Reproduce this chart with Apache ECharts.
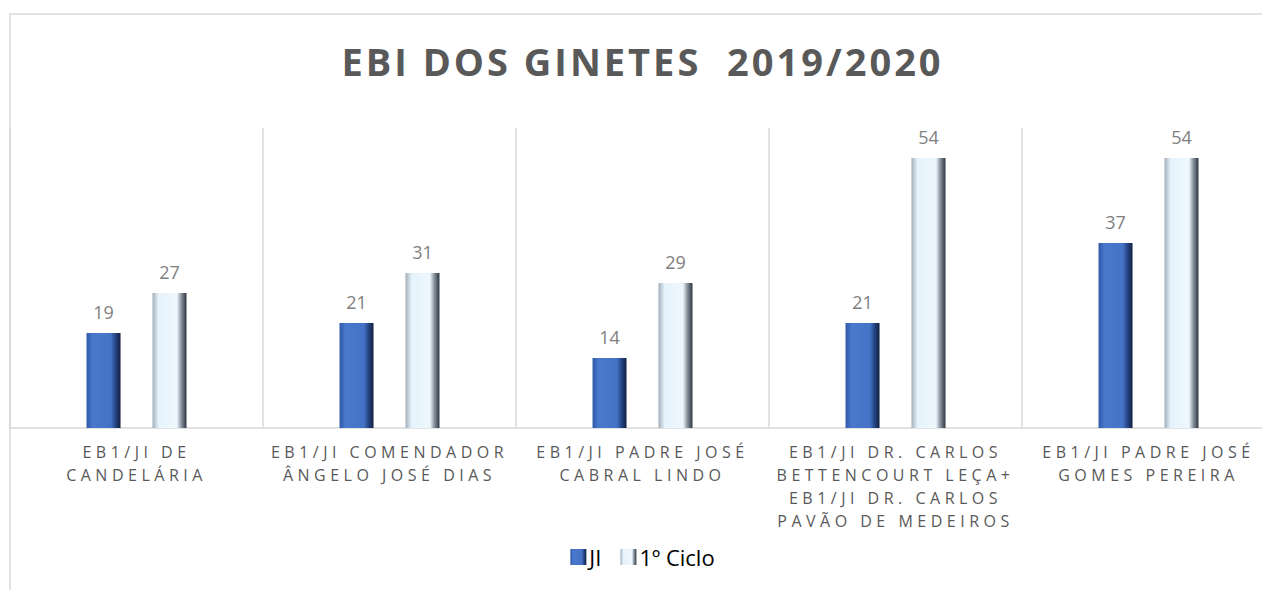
<!DOCTYPE html>
<html>
<head>
<meta charset="utf-8">
<script src="https://cdn.jsdelivr.net/npm/echarts@6/dist/echarts.min.js"></script>
<style>
  html, body { margin: 0; padding: 0; background: #fff; overflow: hidden; }
  #grafico { width: 1285px; height: 590px; }
</style>
</head>
<body>
<div id="grafico"></div>
<script>
// dados do gráfico
var escolas = [
    'EB1/JI DE\nCANDELÁRIA',
    'EB1/JI COMENDADOR\nÂNGELO JOSÉ DIAS',
    'EB1/JI PADRE JOSÉ\nCABRAL LINDO',
    'EB1/JI DR. CARLOS\nBETTENCOURT LEÇA+\nEB1/JI DR. CARLOS\nPAVÃO DE MEDEIROS',
    'EB1/JI PADRE JOSÉ\nGOMES PEREIRA'
];
var alunosJI = [19, 21, 14, 21, 37];
var alunosCiclo = [27, 31, 29, 54, 54];

var grafico = echarts.init(document.getElementById('grafico'), null, { renderer: 'svg' });

// cores com efeito de relevo
var corJI = new echarts.graphic.LinearGradient(0, 0, 1, 0, [
    { offset: 0, color: '#2f59a8' },
    { offset: 0.18, color: '#4a78cc' },
    { offset: 0.72, color: '#4472c4' },
    { offset: 0.84, color: '#28488a' },
    { offset: 1, color: '#101f40' }
]);
var corCiclo = new echarts.graphic.LinearGradient(0, 0, 1, 0, [
    { offset: 0, color: '#a3aeb8' },
    { offset: 0.18, color: '#e6f3fc' },
    { offset: 0.72, color: '#eef7fd' },
    { offset: 0.84, color: '#8c98a3' },
    { offset: 1, color: '#2c3540' }
]);

var option = {
    backgroundColor: '#fff',
    title: {
        text: 'EBI DOS GINETES  2019/2020',
        left: 'center',
        top: 37,
        textStyle: {
            fontFamily: 'Open Sans',
            fontWeight: 'bold',
            fontSize: 38,
            color: '#595959'
        }
    },
    graphic: [{
        type: 'rect',
        silent: true,
        shape: { x: 10, y: 14, width: 1400, height: 700 },
        style: { fill: 'none', stroke: '#d9d9d9', lineWidth: 1.5 }
    }],
    legend: {
        data: ['JI', '1º Ciclo'],
        bottom: 17,
        left: 'center',
        icon: 'rect',
        itemWidth: 16,
        itemHeight: 16,
        itemGap: 19,
        textStyle: { fontFamily: 'Open Sans', fontSize: 22, color: '#000', padding: [0, 0, 0, -2] }
    },
    grid: {
        left: 10,
        right: 10,
        top: 128,
        bottom: 162
    },
    xAxis: {
        type: 'category',
        data: escolas,
        axisLine: { lineStyle: { color: '#d9d9d9', width: 1.5 } },
        axisTick: { show: false },
        splitLine: { show: true, lineStyle: { color: '#d9d9d9', width: 1.5 } },
        axisLabel: {
            interval: 0,
            margin: 12,
            fontFamily: 'Open Sans',
            fontSize: 16,
            lineHeight: 23,
            color: '#595959'
        }
    },
    yAxis: {
        type: 'value',
        min: 0,
        max: 60,
        show: false,
        splitLine: { show: false }
    },
    series: [
        {
            name: 'JI',
            type: 'bar',
            barWidth: 34,
            barGap: '94%',
            itemStyle: { color: corJI },
            label: {
                show: true,
                position: 'top',
                distance: 12,
                fontFamily: 'Open Sans',
                fontSize: 18,
                color: '#7f7f7f'
            },
            data: alunosJI
        },
        {
            name: '1º Ciclo',
            type: 'bar',
            barWidth: 34,
            itemStyle: { color: corCiclo },
            label: {
                show: true,
                position: 'top',
                distance: 12,
                fontFamily: 'Open Sans',
                fontSize: 18,
                color: '#7f7f7f'
            },
            data: alunosCiclo
        }
    ]
};

grafico.setOption(option);

// espaçamento entre letras (título e rótulos do eixo)
function espacarLetras() {
    var textos = document.querySelectorAll('#grafico text');
    textos.forEach(function (t) {
        var tam = parseFloat(window.getComputedStyle(t).fontSize);
        if (tam === 16) {
            t.style.letterSpacing = '4.5px';
        } else if (tam === 38) {
            t.style.letterSpacing = '3px';
        }
    });
}
grafico.on('finished', espacarLetras);
espacarLetras();

window.addEventListener('resize', function () {
    grafico.resize();
});
</script>
</body>
</html>
